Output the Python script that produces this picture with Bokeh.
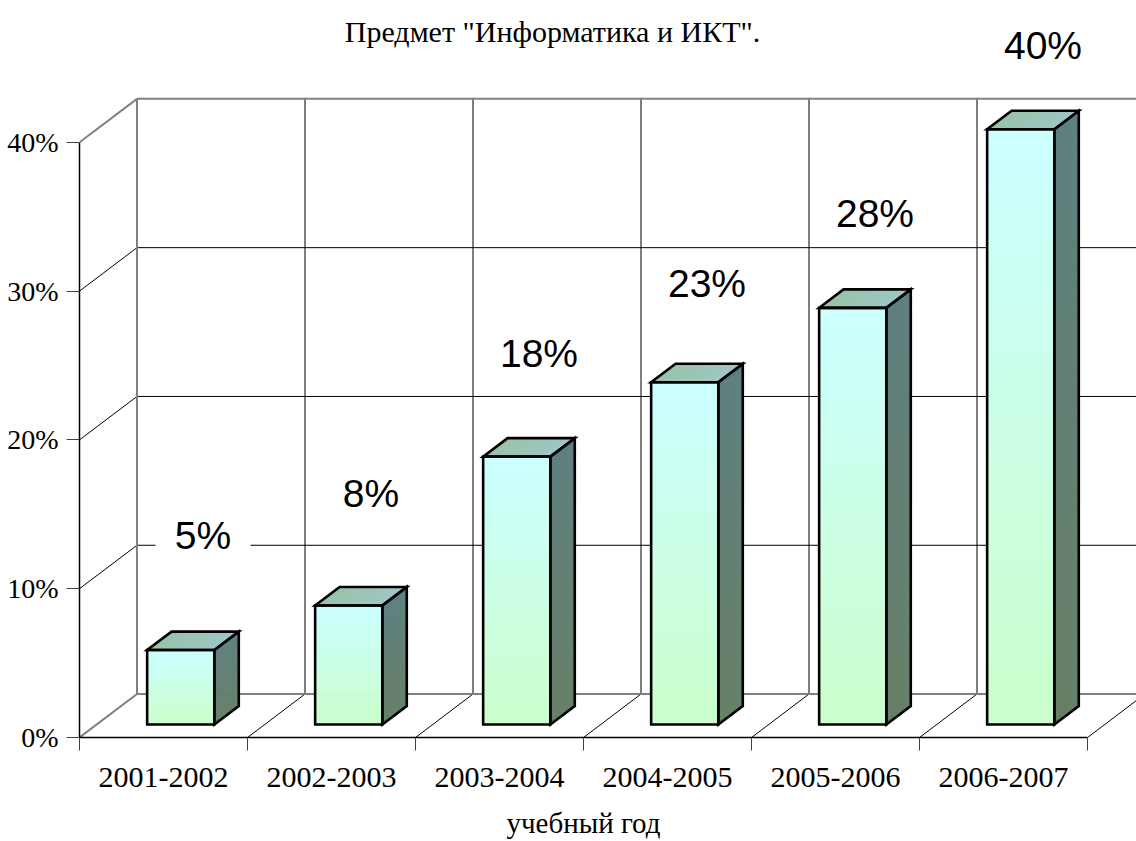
from bokeh.plotting import figure
from bokeh.models import FixedTicker, Range1d, Label, LinearAxis
from bokeh.embed import file_html
from bokeh.resources import INLINE
from bokeh.core.properties import value

# ---------------- data ----------------
title_text = 'Предмет "Информатика и ИКТ".'
years = ["2001-2002", "2002-2003", "2003-2004", "2004-2005", "2005-2006", "2006-2007"]
shares = [5, 8, 18, 23, 28, 40]
y_ticks = [0, 10, 20, 30, 40]
y_tick_labels = ["0%", "10%", "20%", "30%", "40%"]
x_axis_title = "учебный год"

# ---------------- layout ----------------
W, H = 1136, 841
FL, FB = 79, 738          # frame left / bottom (px)
PX_X = 168.0              # pixels per category
PX_Y = 14.9               # pixels per percent
DX = 57.5 / PX_X          # horizontal shift of full depth (data units)
DY = 43.5 / PX_Y          # vertical shift of full depth (data units)
D0, D1 = 0.30, 0.725      # bar front / back depth
B0, B1 = 0.30, 0.70       # bar left / right inside category
NCAT = len(years)
YMAX = y_ticks[-1]


def P(x, v, d):
    return x + d * DX, v + d * DY


def hx(c):
    c = c.lstrip("#")
    return tuple(int(c[i:i + 2], 16) for i in (0, 2, 4))


def mix(c1, c2, t):
    a, b = hx(c1), hx(c2)
    return "#%02x%02x%02x" % tuple(round(a[i] + (b[i] - a[i]) * t) for i in range(3))


p = figure(width=W, height=H,
           x_range=Range1d(0, (W - FL) / PX_X), y_range=Range1d(0, FB / PX_Y),
           output_backend="svg", toolbar_location=None, title=None,
           min_border_left=FL, min_border_right=0, min_border_top=0,
           min_border_bottom=H - FB)
p.xgrid.visible = False
p.ygrid.visible = False
p.outline_line_color = None
p.background_fill_color = "white"
p.border_fill_color = "white"

GRAY = "#808080"

# ---------------- walls & floor ----------------
gx, gy, bx, by = [], [], [], []


def seg(a, b, gray):
    (x0, y0), (x1, y1) = a, b
    if gray:
        gx.append([x0, x1]); gy.append([y0, y1])
    else:
        bx.append([x0, x1]); by.append([y0, y1])


for v in y_ticks:
    edge = v in (y_ticks[0], y_ticks[-1])
    seg(P(0, v, 1), P(NCAT + 0.2, v, 1), edge)      # back wall horizontals
    seg(P(0, v, 0), P(0, v, 1), edge)               # left wall diagonals
for k in range(NCAT + 1):
    seg(P(k, 0, 1), P(k, YMAX, 1), k == 0)          # back wall verticals
    if k > 0:
        seg(P(k, 0, 0), P(k, 0, 1), False)          # floor diagonals

p.multi_line(bx, by, line_color="black", line_width=1)
p.multi_line(gx, gy, line_color=GRAY, line_width=2)

# ---------------- bars ----------------
FRONT_TOP, FRONT_BOT = "#CCFFFF", "#CCFFCC"
SIDE_TOP, SIDE_BOT = "#5E7F7F", "#667F66"
TOP_L, TOP_R = "#98C3A8", "#9DC6C6"
N = 40
NT = 10

sxs, sys_, scol = [], [], []
fl, fr, fb, ft, fcol = [], [], [], [], []
oxs, oys = [], []

for i, val in enumerate(shares):
    xl, xr = i + B0, i + B1
    # side face strips
    for j in range(N):
        v0, v1 = val * j / N, val * (j + 1) / N
        a0, a1 = P(xr, v0, D0), P(xr, v0, D1)
        a2, a3 = P(xr, v1, D1), P(xr, v1, D0)
        sxs.append([a0[0], a1[0], a2[0], a3[0]])
        sys_.append([a0[1], a1[1], a2[1], a3[1]])
        scol.append(mix(SIDE_BOT, SIDE_TOP, (j + 0.5) / N))
    # top face strips (along x)
    for j in range(NT):
        u0 = xl + (xr - xl) * j / NT
        u1 = xl + (xr - xl) * (j + 1) / NT
        a0, a1 = P(u0, val, D0), P(u1, val, D0)
        a2, a3 = P(u1, val, D1), P(u0, val, D1)
        sxs.append([a0[0], a1[0], a2[0], a3[0]])
        sys_.append([a0[1], a1[1], a2[1], a3[1]])
        scol.append(mix(TOP_L, TOP_R, (j + 0.5) / NT))
    # front face strips
    L, B = P(xl, 0, D0)
    R, T = P(xr, val, D0)
    for j in range(N):
        fl.append(L); fr.append(R)
        fb.append(B + (T - B) * j / N); ft.append(B + (T - B) * (j + 1) / N)
        fcol.append(mix(FRONT_BOT, FRONT_TOP, (j + 0.5) / N))
    # outlines
    for face in ([P(xl, 0, D0), P(xr, 0, D0), P(xr, val, D0), P(xl, val, D0)],
                 [P(xr, 0, D0), P(xr, 0, D1), P(xr, val, D1), P(xr, val, D0)],
                 [P(xl, val, D0), P(xr, val, D0), P(xr, val, D1), P(xl, val, D1)]):
        oxs.append([q[0] for q in face])
        oys.append([q[1] for q in face])

p.patches(sxs, sys_, fill_color=scol, line_color=scol, line_width=0.8)
p.quad(left=fl, right=fr, bottom=fb, top=ft, fill_color=fcol, line_color=fcol, line_width=0.8)
p.patches(oxs, oys, fill_alpha=0, line_color="black", line_width=2.6, line_join="miter")

# ---------------- data labels ----------------
lx = [i + 0.735 for i in range(NCAT)]
ly = [v * 0.94 + 8.9 for v in shares]
ltxt = ["%d%%" % v for v in shares]
p.rect(x=lx, y=ly, width=95, height=54, width_units="screen", height_units="screen",
       fill_color="white", line_color=None)
p.text(x=lx, y=ly, text=ltxt, text_font=value("Liberation Sans"), text_font_size="39px",
       text_align="center", text_baseline="middle", text_color="black")

# ---------------- chart title ----------------
p.add_layout(Label(x=(552 - FL) / PX_X, y=(FB - 31) / PX_Y, text=title_text,
                   text_font="Liberation Serif", text_font_size="30px",
                   text_align="center", text_baseline="middle", text_color="black"))

# ---------------- axes ----------------
xa = p.xaxis[0]
xa.ticker = FixedTicker(ticks=[i + 0.5 for i in range(NCAT)], minor_ticks=list(range(NCAT + 1)))
xa.major_label_overrides = {i + 0.5: years[i] for i in range(NCAT)}
xa.bounds = (0, NCAT)
xa.major_tick_out = 0
xa.major_tick_in = 0
xa.minor_tick_out = 13
xa.minor_tick_in = 0
xa.minor_tick_line_color = "#404040"
xa.axis_line_color = "black"
xa.axis_line_width = 1.5
xa.major_label_standoff = 17
xa.major_label_text_font = "Liberation Serif"
xa.major_label_text_font_size = "30px"
xa.major_label_text_color = "black"

# axis title, centred under the category span (0..NCAT)
xt = LinearAxis(ticker=FixedTicker(ticks=[NCAT / 2], minor_ticks=[]),
                major_label_overrides={NCAT / 2: x_axis_title},
                axis_line_color=None, major_tick_line_color=None, minor_tick_line_color=None,
                major_tick_out=0, major_tick_in=0, minor_tick_out=0, minor_tick_in=0,
                major_label_standoff=17,
                major_label_text_font="Liberation Serif",
                major_label_text_font_size="29px", major_label_text_color="black")
p.add_layout(xt, "below")

ya = p.yaxis[0]
ya.ticker = FixedTicker(ticks=y_ticks, minor_ticks=[])
ya.major_label_overrides = {t: s for t, s in zip(y_ticks, y_tick_labels)}
ya.bounds = (0, YMAX)
ya.major_tick_out = 13
ya.major_tick_in = 0
ya.major_tick_line_color = "#404040"
ya.minor_tick_out = 0
ya.minor_tick_in = 0
ya.axis_line_color = "black"
ya.axis_line_width = 1.5
ya.major_label_standoff = 8
ya.major_label_text_font = "Liberation Serif"
ya.major_label_text_font_size = "28px"
ya.major_label_text_color = "black"

open("out.html", "w").write(file_html(p, INLINE))
